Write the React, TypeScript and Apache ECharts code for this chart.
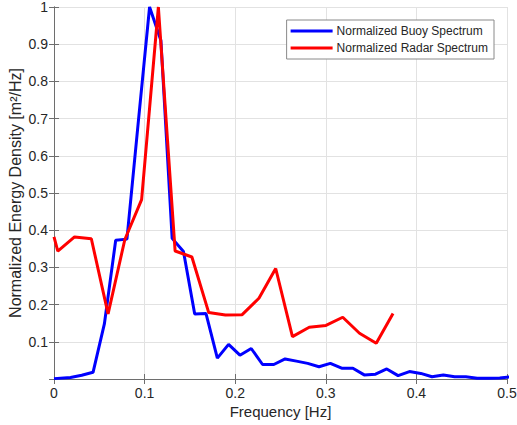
import React, { useEffect, useRef } from "react";
import * as echarts from "echarts";

const buoyFreq = [
  0, 0.0182, 0.0306, 0.0431, 0.0556, 0.0681, 0.0805, 0.093, 0.1055, 0.118,
  0.1304, 0.1429, 0.1553, 0.1678, 0.1803, 0.1927, 0.2052, 0.2177, 0.2302, 0.2426,
  0.2551, 0.2676, 0.28, 0.2925, 0.305, 0.3175, 0.3299, 0.3424, 0.3549, 0.3673,
  0.3798, 0.3923, 0.4048, 0.4172, 0.4297, 0.4422, 0.4546, 0.4671, 0.4796, 0.492,
  0.5045,
];
const buoyValues = [
  0.001, 0.004, 0.01, 0.018, 0.148, 0.373, 0.376, 0.69, 1.0, 0.91,
  0.378, 0.343, 0.175, 0.176, 0.056, 0.093, 0.064, 0.082, 0.039, 0.039,
  0.054, 0.048, 0.042, 0.033, 0.042, 0.029, 0.029, 0.011, 0.013, 0.027,
  0.009, 0.02, 0.015, 0.006, 0.011, 0.006, 0.006, 0.002, 0.002, 0.003,
  0.006,
];

const radarFreq = [
  0, 0.0042, 0.0227, 0.0412, 0.0597, 0.0782, 0.0967, 0.1152, 0.1337, 0.1522,
  0.1707, 0.1892, 0.2077, 0.2262, 0.2447, 0.2632, 0.2817, 0.3002, 0.3187, 0.3372,
  0.3557, 0.3742,
];
const radarValues = [
  0.382, 0.344, 0.382, 0.377, 0.175, 0.375, 0.482, 1.0, 0.344, 0.328,
  0.179, 0.172, 0.173, 0.217, 0.297, 0.114, 0.139, 0.144, 0.166, 0.123,
  0.096, 0.176,
];

const FONT = "'Liberation Sans', Arial, sans-serif";
const TXT = "#262626";
const AXIS = "#6e6e6e";
const GRID = "#e2e2e2";

export default function App() {
  const ref = useRef<HTMLDivElement>(null);
  useEffect(() => {
    if (!ref.current) return;
    const chart = echarts.init(ref.current, undefined, { renderer: "svg" });
    const buoy = buoyFreq.map((f, i) => [f, buoyValues[i]]);
    const radar = radarFreq.map((f, i) => [f, radarValues[i]]);
    chart.setOption({
      animation: false,
      backgroundColor: "#ffffff",
      textStyle: { fontFamily: FONT },
      grid: {
        left: 54,
        right: 10,
        top: 7,
        bottom: 46,
        containLabel: false,
        outerBoundsMode: "none",
      },
      legend: {
        orient: "vertical",
        right: 23,
        top: 20,
        backgroundColor: "#ffffff",
        borderColor: "#8a8a8a",
        borderWidth: 1,
        padding: [5, 6, 5, 4],
        itemGap: 5,
        itemWidth: 42,
        itemHeight: 3,
        icon: "rect",
        textStyle: { fontSize: 12, color: TXT, fontFamily: FONT, padding: [0, 0, 0, -1] },
        data: ["Normalized Buoy Spectrum", "Normalized Radar Spectrum"],
      },
      xAxis: [
        {
          type: "value",
          min: 0,
          max: 0.5,
          interval: 0.1,
          name: "Frequency [Hz]",
          nameLocation: "middle",
          nameGap: 25,
          nameMoveOverlap: false,
          nameTextStyle: { fontSize: 15, color: TXT, fontFamily: FONT },
          axisLine: { show: true, lineStyle: { color: AXIS, width: 1 } },
          axisTick: { show: true, inside: true, length: 5, lineStyle: { color: AXIS } },
          axisLabel: {
            fontSize: 14,
            color: TXT,
            margin: 7,
            fontFamily: FONT,
            formatter: (v: number) => String(Number(v.toFixed(1))),
          },
          splitLine: { show: true, lineStyle: { color: GRID, width: 1 } },
        },
        {
          type: "value",
          position: "top",
          min: 0,
          max: 0.5,
          interval: 0.1,
          axisLine: { show: true, lineStyle: { color: AXIS, width: 1 } },
          axisTick: { show: true, inside: true, length: 5, lineStyle: { color: AXIS } },
          axisLabel: { show: false },
          splitLine: { show: false },
        },
      ],
      yAxis: [
        {
          type: "value",
          min: 0,
          max: 1,
          interval: 0.1,
          name: "Normalized Energy Density [m²/Hz]",
          nameLocation: "middle",
          nameGap: 31,
          nameMoveOverlap: false,
          nameTextStyle: { fontSize: 16, color: TXT, fontFamily: FONT },
          axisLine: { show: true, lineStyle: { color: AXIS, width: 1 } },
          axisTick: { show: true, inside: true, length: 5, lineStyle: { color: AXIS } },
          axisLabel: {
            fontSize: 14,
            color: TXT,
            margin: 6,
            fontFamily: FONT,
            formatter: (v: number) => (v === 0 ? "" : String(Number(v.toFixed(1)))),
          },
          splitLine: { show: true, lineStyle: { color: GRID, width: 1 } },
        },
        {
          type: "value",
          position: "right",
          min: 0,
          max: 1,
          interval: 0.1,
          axisLine: { show: true, lineStyle: { color: AXIS, width: 1 } },
          axisTick: { show: true, inside: true, length: 5, lineStyle: { color: AXIS } },
          axisLabel: { show: false },
          splitLine: { show: false },
        },
      ],
      series: [
        {
          name: "Normalized Buoy Spectrum",
          type: "line",
          data: buoy,
          xAxisIndex: 0,
          yAxisIndex: 0,
          showSymbol: false,
          symbol: "none",
          clip: true,
          color: "#0000ff",
          lineStyle: { color: "#0000ff", width: 3 },
          z: 3,
        },
        {
          name: "Normalized Radar Spectrum",
          type: "line",
          data: radar,
          xAxisIndex: 0,
          yAxisIndex: 0,
          showSymbol: false,
          symbol: "none",
          clip: true,
          color: "#ff0000",
          lineStyle: { color: "#ff0000", width: 3 },
          z: 4,
        },
      ],
    });
    return () => chart.dispose();
  }, []);
  return <div ref={ref} style={{ width: 517, height: 425, position: "fixed", left: 0, top: 0 }} />;
}
